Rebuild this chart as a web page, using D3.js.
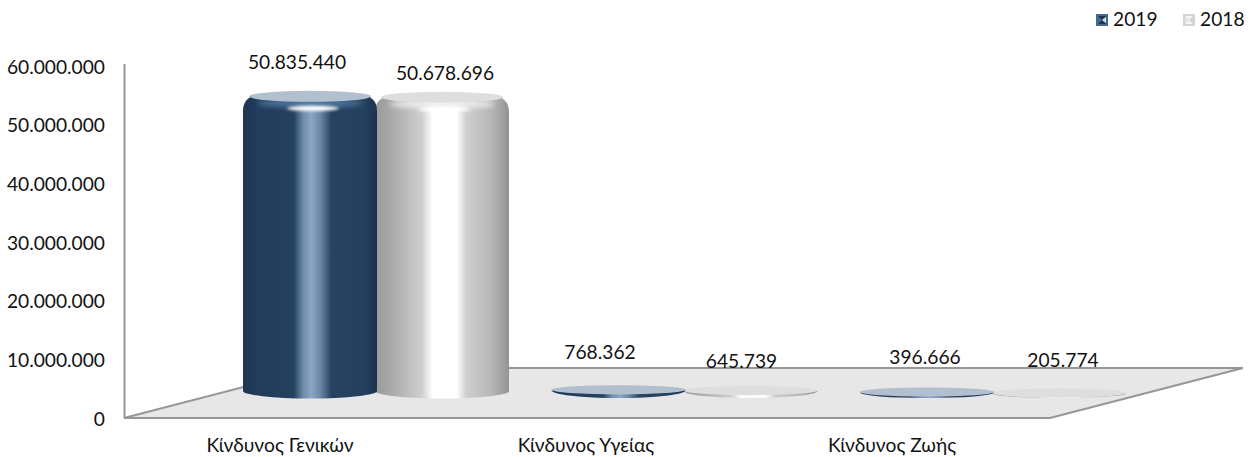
<!DOCTYPE html>
<html><head><meta charset="utf-8">
<script src="https://cdn.jsdelivr.net/npm/d3@7"></script>
<style>html,body{margin:0;background:#fff}svg{display:block}text{font-family:Lato,"Open Sans","Noto Sans",sans-serif;font-size:19.2px;fill:#111}</style>
</head><body><svg id="c" width="1250" height="457"></svg>
<script>
const categories=["Κίνδυνος Γενικών","Κίνδυνος Υγείας","Κίνδυνος Ζωής"];
const seriesNames=["2019","2018"];
const values2019=[50835440,768362,396666];
const values2018=[50678696,645739,205774];
const yTicks=[0,10000000,20000000,30000000,40000000,50000000,60000000];

const svg=d3.select("#c"), defs=svg.append("defs");
const fmt=v=>d3.format(",")(v).replace(/,/g,".");
const y=d3.scaleLinear().domain([0,60000000]).range([419,67]);
const heightScale=d3.scaleLinear().domain([0,60000000]).range([0,349]);
const catX=d3.scalePoint().domain(categories).range([376,993]);
const labelX=d3.scalePoint().domain(categories).range([280,892]);
const serX=d3.scalePoint().domain(seriesNames).range([-66,66]);
const baseY=391, halfW=67;
const labelNudge={"2019":[[-13,62],[-18.5,352],[-2,357]],"2018":[[3,73],[-9,361],[4,360]]};

function grad(id,stops){const g=defs.append("linearGradient").attr("id",id);
 stops.forEach(([o,c])=>g.append("stop").attr("offset",o).attr("stop-color",c));}
grad("g2019",[[0,"#1e3553"],[.12,"#223c5c"],[.38,"#24415f"],[.45,"#6f8cad"],[.51,"#8ba6c5"],[.58,"#6885a6"],[.66,"#25425f"],[.9,"#24405f"],[1,"#1d3350"]]);
grad("g2018",[[0,"#9a9a9a"],[.12,"#a9a9a9"],[.35,"#cfcfcf"],[.43,"#ffffff"],[.61,"#ffffff"],[.68,"#d0d0d0"],[.88,"#b4b4b4"],[1,"#939393"]]);
const blur=defs.append("filter").attr("id","bl").attr("x","-30%").attr("y","-100%").attr("width","160%").attr("height","300%");
blur.append("feGaussianBlur").attr("stdDeviation","1.6");
const wide=defs.append("filter").attr("id","wb").attr("x","-20%").attr("y","-100%").attr("width","140%").attr("height","300%");
wide.append("feGaussianBlur").attr("stdDeviation","2.5");
const soft=defs.append("filter").attr("id","sf").attr("x","-5%").attr("y","-30%").attr("width","110%").attr("height","160%");
soft.append("feGaussianBlur").attr("stdDeviation","0.7");

const colors={"2019":{top:"#b2bfce",grad:"url(#g2019)",band:"#4d749c"},"2018":{top:"#dedede",grad:"url(#g2018)",band:"#ececec"}};

/* floor */
svg.append("path").attr("d","M124,418H1050L1243,368H317Z").attr("fill","#e7e7e7").attr("stroke","#969696").attr("stroke-width",2);
svg.append("path").attr("d","M124.5,64V418").attr("stroke","#969696").attr("stroke-width",2).attr("fill","none");

/* y axis */
const ax=svg.append("g").attr("transform","translate(105,0)").call(d3.axisLeft(y).tickValues(yTicks).tickSize(0).tickPadding(0).tickFormat(fmt));
ax.select(".domain").remove();
ax.selectAll("text").style("font-size","19.2px").style("font-family","Lato,'Open Sans','Noto Sans',sans-serif").attr("fill","#111");

/* cylinders */
function cylinder(g,cx,h,s){
 const c=colors[s],x0=cx-halfW,x1=cx+halfW;
 if(h>20){
  const ry=7.5,top=baseY-h;
  g.append("path").attr("d",`M${x0},${baseY}V${top+16}C${x0},${top+5} ${x0+6},${top+1} ${x0+16},${top-1}L${x1-16},${top-1}C${x1-6},${top+1} ${x1},${top+5} ${x1},${top+16}V${baseY}A${halfW},${ry} 0 0 1 ${x0},${baseY}Z`).attr("fill",c.grad);
  g.append("ellipse").attr("cx",cx).attr("cy",top+8).attr("rx",halfW-14).attr("ry",4).attr("fill",c.band).attr("filter","url(#wb)");
  g.append("ellipse").attr("cx",cx).attr("cy",top+1).attr("rx",halfW-6).attr("ry",5.5).attr("fill",c.top).attr("filter","url(#sf)");
  g.append("ellipse").attr("cx",cx+(s==="2019"?3:2)).attr("cy",top+13).attr("rx",26).attr("ry",2.6).attr("fill","#fff").attr("filter","url(#bl)");
 } else {
  const topC=baseY-h+3.8, floorY=398;
  g.append("path").attr("d",`M${x0},${topC}A${halfW},${floorY-topC} 0 0 0 ${x1},${topC}Z`).attr("fill",c.grad);
  g.append("ellipse").attr("cx",cx).attr("cy",topC-0.5).attr("rx",halfW).attr("ry",4.6).attr("fill",c.top).attr("filter","url(#sf)");
 }
}
seriesNames.slice().reverse().forEach(s=>{
 const vals=s==="2019"?values2019:values2018;
 const g=svg.append("g");
 categories.forEach((cat,i)=>cylinder(g,catX(cat)+serX(s),heightScale(vals[i]),s));
});
/* data labels */
seriesNames.forEach(s=>{
 const vals=s==="2019"?values2019:values2018;
 categories.forEach((cat,i)=>{
  const n=labelNudge[s][i];
  svg.append("text").attr("x",catX(cat)+serX(s)+n[0]).attr("y",n[1]+6.5).attr("text-anchor","middle").text(fmt(vals[i]));
 });
});
/* category labels */
categories.forEach(cat=>svg.append("text").attr("x",labelX(cat)).attr("y",452).attr("text-anchor","middle").text(cat));
/* legend */
const legendX=d3.scalePoint().domain(seriesNames).range([1096,1183]);
seriesNames.forEach(s=>{
 const x=legendX(s),g=svg.append("g"),b=s==="2019";
 g.append("rect").attr("x",x).attr("y",14).attr("width",12).attr("height",12).attr("fill",b?"#44688e":"#d4d4d4");
 g.append("path").attr("d",`M${x+2},16H${x+10}L${x+6},20L${x+10},24H${x+2}L${x+6},20Z`).attr("fill",b?"#1d3552":"#f4f4f4");
 if(b) g.append("path").attr("d",`M${x+6},20L${x+10},17V23Z`).attr("fill","#d4dde6");
 else g.append("path").attr("d",`M${x+2},16L${x+6},20L${x+2},24Z`).attr("fill","#e6e6e6");
 g.append("text").attr("x",x+17).attr("y",26).text(s);
});
</script></body></html>
